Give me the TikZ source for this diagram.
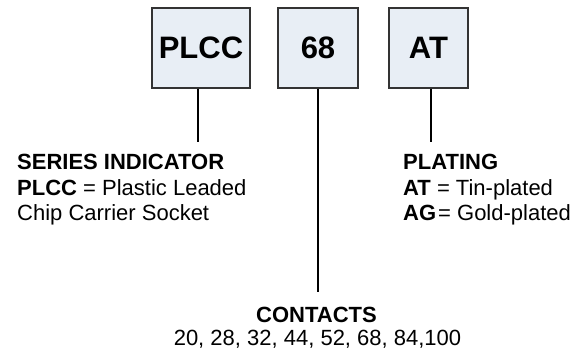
\documentclass[tikz,border=0pt]{standalone}
\usepackage{fontspec}
\setmainfont{Liberation Sans}
\definecolor{boxfill}{HTML}{E8EEF5}
\definecolor{boxline}{HTML}{333333}
\begin{document}
\begin{tikzpicture}[x=1pt,y=-1pt,
  codebox/.style={draw=boxline, fill=boxfill, line width=1.4pt, minimum height=80pt, inner sep=0pt, font=\fontsize{31}{31}\selectfont\bfseries},
  lead/.style={line width=2.2pt, draw=black},
  lbl/.style={inner sep=0pt, font=\fontsize{22}{26}\selectfont, anchor=base west},
  clbl/.style={inner sep=0pt, font=\fontsize{22}{26}\selectfont, anchor=base}]
\useasboundingbox (0,0) rectangle (579,350);
\node[codebox, minimum width=98pt] (plcc) at (201,48) {PLCC};
\node[codebox, minimum width=80pt] (sixty) at (318,48) {68};
\node[codebox, minimum width=79pt] (at) at (428.5,48) {AT};
\coordinate (e1) at (198,142);
\coordinate (e2) at (318,292);
\coordinate (e3) at (431,142);
\draw[lead] (e1 |- plcc.south) -- (e1);
\draw[lead] (e2 |- sixty.south) -- (e2);
\draw[lead] (e3 |- at.south) -- (e3);
\node[lbl] (s1) at (17,170) {\bfseries SERIES INDICATOR};
\node[lbl] (s2) at (17,196) {\textbf{PLCC} = Plastic Leaded};
\node[lbl] (s3) at (17,221) {Chip Carrier Socket};
\node[lbl] (p1) at (403,170) {\bfseries PLATING};
\node[lbl] (p2) at (403,196) {\textbf{AT} = Tin-plated};
\node[lbl] (p3) at (403,221) {\textbf{AG}\hspace{2pt}= Gold-plated};
\node[clbl] (c1) at (316.5,323) {\bfseries CONTACTS};
\node[clbl] (c2) at (317.5,345) {20, 28, 32, 44, 52, 68, 84,100};
\end{tikzpicture}
\end{document}
